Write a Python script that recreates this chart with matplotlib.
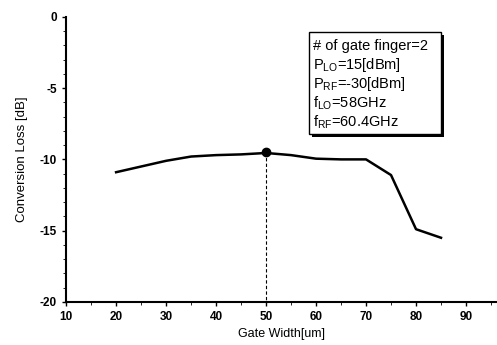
import matplotlib
matplotlib.use('Agg')
import matplotlib.pyplot as plt
from matplotlib.ticker import MultipleLocator
from matplotlib.patches import Rectangle

gate_width = [20, 30, 35, 40, 45, 50, 55, 60, 65, 70, 75, 80, 85]
conv_loss = [-10.9, -10.1, -9.8, -9.7, -9.65, -9.55, -9.7, -9.95, -10.0, -10.0, -11.1, -14.9, -15.5]
best_w, best_loss = 50, -9.5

legend_lines = ['# of gate finger=2',
                r'P$_{\mathrm{LO}}$=15[dBm]',
                r'P$_{\mathrm{RF}}$=-30[dBm]',
                r'f$_{\mathrm{LO}}$=58GHz',
                r'f$_{\mathrm{RF}}$=60.4GHz']

plt.rcParams['font.family'] = ['Liberation Sans', 'DejaVu Sans']
plt.rcParams['mathtext.fontset'] = 'custom'
plt.rcParams['mathtext.rm'] = 'Liberation Sans'
plt.rcParams['axes.unicode_minus'] = False

fig = plt.figure(figsize=(4.97, 3.45), dpi=100)
ax = fig.add_axes([0.133, 0.125, 0.865, 0.826])

ax.plot(gate_width, conv_loss, color='black', lw=1.8)
ax.plot([best_w], [best_loss], 'o', color='black', ms=6)
ax.plot([best_w, best_w], [best_loss, -20], ls=(0, (3, 2)), color='black', lw=0.8)

ax.set_xlim(10, 96)
ax.set_ylim(-20, 0)
ax.set_xticks(range(10, 100, 10))
ax.set_yticks([0, -5, -10, -15, -20])
ax.xaxis.set_minor_locator(MultipleLocator(5))
ax.yaxis.set_minor_locator(MultipleLocator(1))
ax.spines['top'].set_visible(False)
ax.spines['right'].set_visible(False)
ax.spines['left'].set_linewidth(1.5)
ax.spines['bottom'].set_linewidth(1.5)
ax.tick_params(labelsize=8.5, width=1, length=3)
ax.tick_params(which='minor', length=2)
for lbl in ax.get_xticklabels() + ax.get_yticklabels():
    lbl.set_fontweight('bold')

ax.set_xlabel('Gate Width[um]', fontsize=9)
ax.set_ylabel('Conversion Loss [dB]', fontsize=9.5)
ax.yaxis.set_label_coords(-38 / 430, 0.5)

# legend box with shadow
fig.patches.append(Rectangle((312 / 497, 1 - 137 / 345), 132 / 497, 102 / 345,
                             transform=fig.transFigure, facecolor='black', edgecolor='none'))
fig.patches.append(Rectangle((309 / 497, 1 - 134 / 345), 132 / 497, 102 / 345,
                             transform=fig.transFigure, facecolor='white', edgecolor='black', lw=1))
for i, t in enumerate(legend_lines):
    fig.text(313 / 497, 1 - (46 + i * 19) / 345, t, fontsize=10.5, va='center', ha='left')

fig.savefig('out.png', dpi=100)
